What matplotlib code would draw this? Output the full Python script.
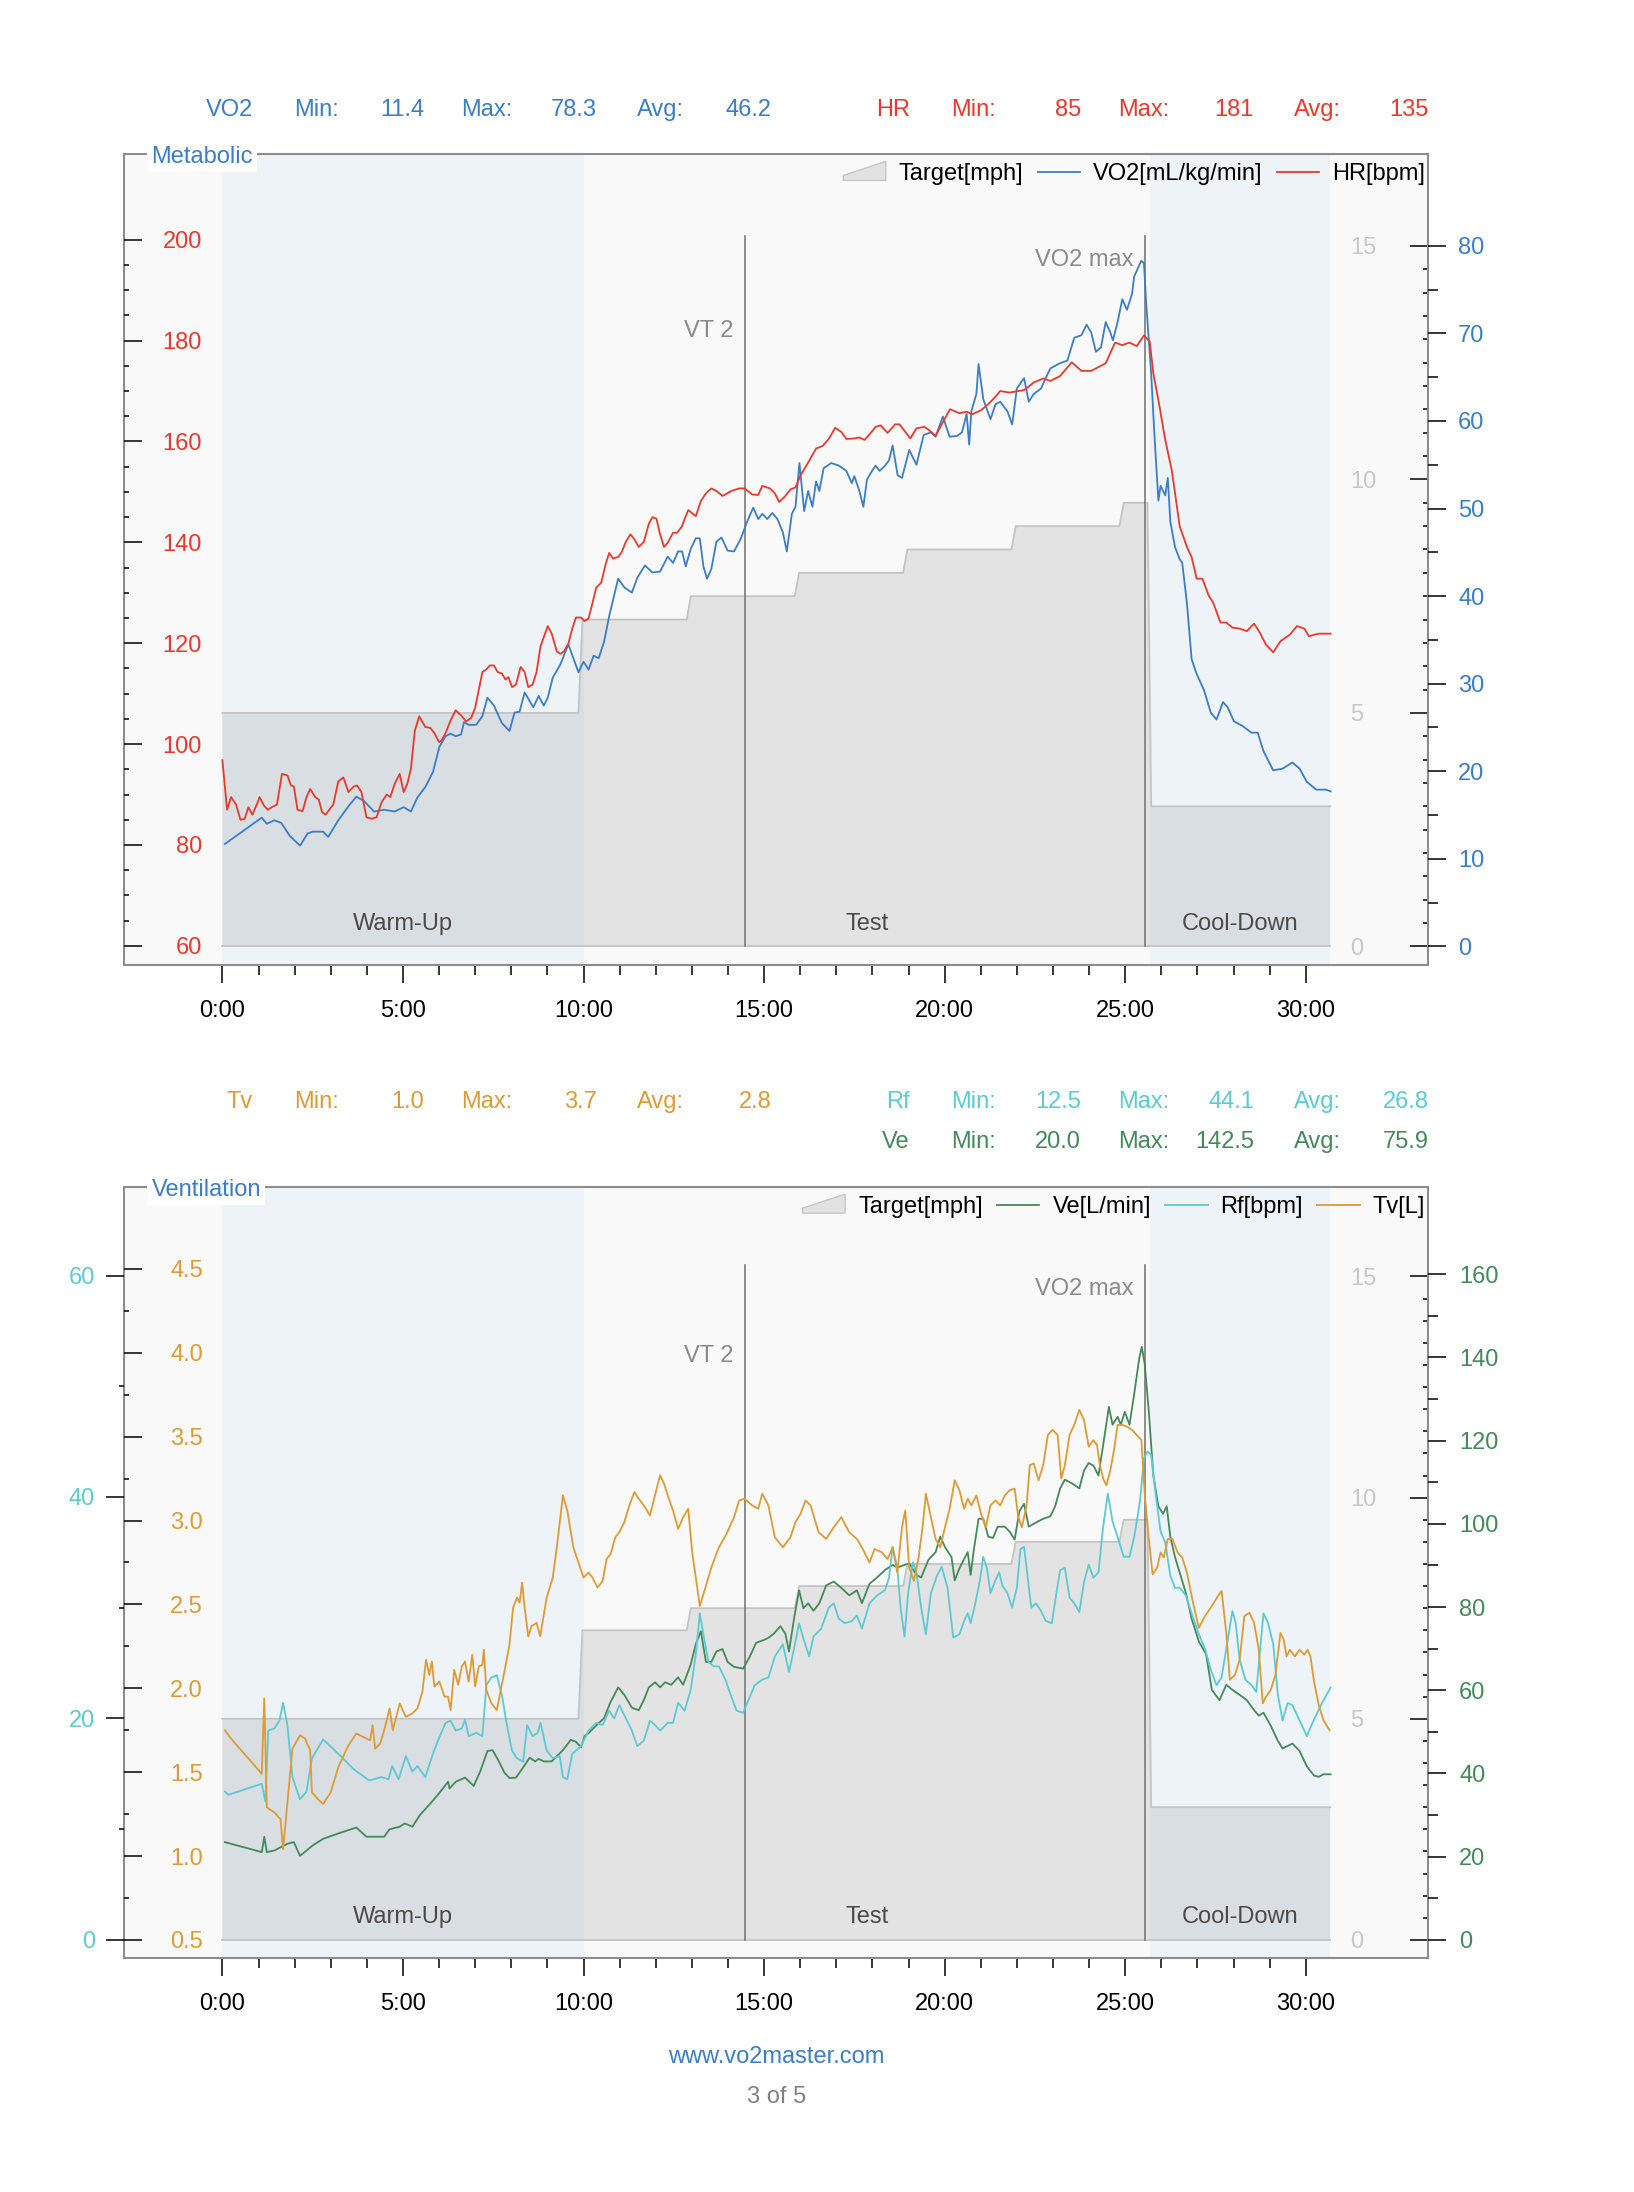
import matplotlib
matplotlib.use("Agg")
import matplotlib.pyplot as plt
from matplotlib.ticker import FixedLocator, FuncFormatter
from matplotlib.patches import Patch, Polygon
from matplotlib.legend_handler import HandlerPatch
from matplotlib.transforms import blended_transform_factory

plt.rcParams['font.family'] = ['Liberation Sans', 'DejaVu Sans']
plt.rcParams['font.size'] = 17

# ---------------- data (time in minutes) ----------------
target_t = [0, 9.86, 9.97, 12.86, 12.97, 15.85, 15.97, 18.85, 18.97, 21.85, 21.97, 24.84, 24.96, 25.62, 25.72, 30.68]
target_v = [5.0, 5.0, 7.0, 7.0, 7.5, 7.5, 8.0, 8.0, 8.5, 8.5, 9.0, 9.0, 9.5, 9.5, 3.0, 3.0]

phases = ['Warm-Up', 'Test', 'Cool-Down']
phase_edges = [0, 10, 25.69, 30.68]
markers = ['VT 2', 'VO2 max']
marker_t = [14.46, 25.55]

hr_t = [0.00, 0.13, 0.24, 0.38, 0.50, 0.62, 0.72, 0.83, 0.98, 1.03,
        1.16, 1.26, 1.37, 1.51, 1.65, 1.80, 1.90, 1.98, 2.08, 2.22,
        2.33, 2.43, 2.57, 2.67, 2.76, 2.86, 2.96, 3.07, 3.21, 3.35,
        3.49, 3.64, 3.73, 3.85, 3.99, 4.13, 4.27, 4.41, 4.55, 4.65,
        4.77, 4.91, 5.02, 5.12, 5.22, 5.33, 5.45, 5.62, 5.76, 5.87,
        6.00, 6.07, 6.18, 6.32, 6.46, 6.61, 6.75, 6.89, 7.00, 7.10,
        7.20, 7.31, 7.41, 7.52, 7.62, 7.74, 7.84, 7.92, 8.02, 8.13,
        8.26, 8.37, 8.47, 8.59, 8.70, 8.81, 9.01, 9.12, 9.26, 9.36,
        9.46, 9.58, 9.69, 9.79, 9.93, 10.03, 10.14, 10.25, 10.35, 10.49,
        10.61, 10.71, 10.82, 10.96, 11.06, 11.17, 11.30, 11.41, 11.53, 11.67,
        11.81, 11.91, 12.02, 12.12, 12.23, 12.33, 12.48, 12.59, 12.72, 12.90,
        13.11, 13.25, 13.39, 13.54, 13.68, 13.85, 14.10, 14.31, 14.46, 14.67,
        14.84, 14.95, 15.16, 15.30, 15.42, 15.59, 15.73, 15.87, 16.01, 16.22,
        16.44, 16.62, 16.79, 16.97, 17.14, 17.28, 17.50, 17.64, 17.78, 17.92,
        18.09, 18.23, 18.42, 18.63, 18.75, 19.05, 19.22, 19.44, 19.58, 19.75,
        19.92, 20.15, 20.41, 20.61, 20.77, 21.01, 21.21, 21.41, 21.54, 21.80,
        22.20, 22.47, 22.73, 22.93, 23.20, 23.52, 23.79, 24.06, 24.46, 24.72,
        24.92, 25.12, 25.32, 25.52, 25.68, 25.78, 25.94, 26.11, 26.29, 26.51,
        26.71, 26.84, 26.98, 27.14, 27.31, 27.44, 27.64, 27.80, 27.97, 28.17,
        28.37, 28.57, 28.73, 28.90, 29.10, 29.30, 29.56, 29.76, 29.96, 30.09,
        30.36, 30.69]
hr_v = [96.8, 87.0, 89.5, 88.0, 85.0, 85.2, 87.5, 86.0, 88.5, 89.5,
        87.7, 87.0, 87.5, 88.0, 94.1, 93.8, 91.8, 91.6, 87.0, 86.7,
        89.5, 91.1, 89.5, 89.0, 86.5, 86.0, 87.0, 88.0, 92.6, 93.4,
        90.5, 91.6, 91.8, 90.5, 85.5, 85.2, 85.5, 88.5, 90.0, 89.5,
        92.1, 94.1, 90.5, 92.1, 95.1, 102.7, 105.5, 103.4, 103.2, 102.2,
        100.4, 100.7, 102.2, 104.7, 106.7, 105.7, 104.5, 105.2, 107.2, 110.8,
        114.3, 114.8, 115.6, 115.6, 114.3, 114.0, 112.8, 113.3, 111.3, 111.8,
        115.3, 114.3, 111.3, 111.8, 114.3, 119.4, 123.4, 121.9, 118.4, 117.9,
        118.4, 119.9, 122.9, 125.1, 125.1, 124.4, 124.9, 128.0, 131.0, 132.0,
        135.6, 137.9, 136.8, 137.1, 138.1, 140.1, 141.6, 140.6, 139.1, 140.1,
        143.7, 145.0, 144.7, 141.6, 139.1, 139.9, 141.9, 141.9, 143.1, 146.4,
        145.2, 148.2, 149.7, 150.7, 150.2, 149.2, 150.2, 150.7, 150.7, 149.5,
        149.4, 151.2, 150.7, 149.7, 148.0, 149.2, 150.5, 150.9, 153.3, 155.8,
        158.6, 159.1, 160.5, 162.7, 161.9, 160.5, 160.6, 160.8, 160.3, 161.4,
        162.9, 163.2, 161.7, 163.4, 163.4, 160.6, 162.6, 162.9, 162.2, 161.1,
        163.4, 166.4, 165.6, 165.9, 165.4, 166.2, 167.4, 168.9, 170.0, 169.7,
        170.2, 171.7, 172.5, 172.0, 173.0, 175.7, 174.0, 174.0, 175.5, 179.6,
        179.1, 179.6, 178.9, 181.0, 179.8, 173.5, 167.4, 160.3, 154.3, 143.2,
        139.1, 137.1, 132.8, 132.8, 129.5, 128.0, 124.1, 124.1, 123.1, 122.9,
        122.4, 123.9, 122.1, 119.7, 118.2, 120.4, 121.7, 123.4, 122.9, 121.4,
        121.9, 121.9]

vo2_t = [0.07, 1.09, 1.23, 1.44, 1.63, 1.87, 2.15, 2.36, 2.50, 2.79,
         2.93, 3.21, 3.49, 3.71, 3.92, 4.20, 4.48, 4.77, 5.02, 5.22,
         5.40, 5.62, 5.83, 6.01, 6.18, 6.32, 6.46, 6.61, 6.69, 6.82,
         7.03, 7.20, 7.34, 7.52, 7.74, 7.95, 8.09, 8.23, 8.37, 8.61,
         8.76, 8.90, 9.01, 9.15, 9.36, 9.58, 9.86, 10.00, 10.14, 10.28,
         10.42, 10.57, 10.71, 10.96, 11.13, 11.34, 11.49, 11.70, 11.91, 12.12,
         12.33, 12.48, 12.62, 12.73, 12.83, 12.97, 13.11, 13.22, 13.32, 13.42,
         13.54, 13.68, 13.82, 13.99, 14.17, 14.36, 14.53, 14.70, 14.84, 14.95,
         15.09, 15.23, 15.37, 15.52, 15.63, 15.77, 15.87, 15.98, 16.11, 16.22,
         16.34, 16.44, 16.53, 16.65, 16.86, 17.07, 17.28, 17.43, 17.50, 17.64,
         17.75, 17.85, 17.99, 18.09, 18.20, 18.35, 18.46, 18.56, 18.70, 18.82,
         19.02, 19.22, 19.42, 19.62, 19.75, 19.95, 20.14, 20.35, 20.48, 20.61,
         20.68, 20.74, 20.88, 20.94, 21.07, 21.27, 21.41, 21.54, 21.74, 21.87,
         22.00, 22.20, 22.33, 22.47, 22.67, 22.80, 22.93, 23.06, 23.20, 23.40,
         23.59, 23.79, 23.93, 24.06, 24.19, 24.33, 24.46, 24.59, 24.66, 24.79,
         24.92, 25.05, 25.19, 25.25, 25.39, 25.45, 25.52, 25.58, 25.72, 25.81,
         25.92, 25.98, 26.11, 26.18, 26.25, 26.38, 26.51, 26.58, 26.71, 26.84,
         26.98, 27.18, 27.37, 27.53, 27.71, 27.84, 28.01, 28.24, 28.50, 28.67,
         28.83, 29.10, 29.36, 29.63, 29.83, 30.03, 30.29, 30.56, 30.69]
vo2_v = [11.7, 14.7, 14.0, 14.4, 14.1, 12.6, 11.5, 12.9, 13.1, 13.1,
         12.5, 14.4, 16.0, 17.1, 16.6, 15.4, 15.6, 15.4, 15.9, 15.4,
         17.0, 18.2, 19.9, 22.8, 24.0, 24.3, 24.0, 24.2, 25.6, 25.3,
         25.3, 26.3, 28.4, 27.5, 25.5, 24.6, 26.7, 26.8, 29.0, 27.3,
         28.6, 27.5, 28.4, 30.7, 32.2, 34.5, 31.3, 32.5, 31.6, 33.2,
         32.9, 34.8, 37.7, 42.0, 41.0, 40.4, 42.1, 43.5, 42.7, 42.8,
         44.5, 43.8, 45.1, 45.1, 43.4, 45.4, 46.6, 46.6, 43.4, 42.0,
         43.1, 46.2, 46.7, 45.2, 45.1, 46.6, 48.5, 50.1, 48.8, 49.4,
         48.8, 49.5, 48.8, 47.3, 45.1, 49.4, 50.2, 55.2, 49.7, 52.0,
         50.2, 53.1, 52.0, 54.6, 55.2, 54.9, 54.3, 52.9, 53.7, 52.0,
         50.2, 53.3, 54.3, 54.9, 54.3, 54.9, 55.5, 57.2, 53.8, 53.5,
         56.7, 55.0, 58.4, 58.7, 58.2, 60.5, 58.2, 58.3, 58.7, 60.8,
         57.3, 61.1, 63.1, 66.5, 62.5, 60.2, 61.9, 62.2, 61.1, 59.6,
         63.7, 64.9, 62.2, 63.1, 63.7, 64.9, 66.0, 66.3, 66.6, 66.9,
         69.5, 69.8, 71.0, 70.1, 67.9, 68.4, 71.3, 70.1, 69.2, 71.3,
         73.9, 72.7, 74.5, 76.5, 77.8, 78.3, 78.0, 73.6, 65.4, 58.4,
         50.9, 52.6, 51.5, 53.5, 48.5, 45.6, 44.2, 43.8, 39.2, 32.8,
         31.1, 29.3, 26.7, 25.9, 27.9, 27.3, 25.7, 25.2, 24.4, 24.4,
         22.3, 20.1, 20.3, 21.0, 20.3, 18.8, 17.9, 17.9, 17.7]

ve_t = [0.07, 1.09, 1.16, 1.23, 1.44, 1.80, 1.98, 2.15, 2.50, 2.79,
        3.35, 3.71, 3.99, 4.48, 4.63, 4.91, 5.05, 5.26, 5.47, 5.73,
        5.97, 6.25, 6.29, 6.46, 6.72, 6.96, 7.14, 7.34, 7.48, 7.62,
        7.81, 7.95, 8.13, 8.30, 8.51, 8.66, 8.76, 8.90, 9.12, 9.29,
        9.43, 9.65, 9.79, 9.93, 10.03, 10.14, 10.35, 10.57, 10.74, 10.96,
        11.13, 11.34, 11.53, 11.67, 11.81, 11.98, 12.12, 12.26, 12.43, 12.62,
        12.76, 12.97, 13.11, 13.25, 13.39, 13.54, 13.68, 13.85, 13.99, 14.17,
        14.42, 14.60, 14.78, 15.00, 15.12, 15.27, 15.45, 15.59, 15.69, 15.83,
        15.97, 16.09, 16.22, 16.37, 16.53, 16.72, 16.93, 17.14, 17.36, 17.57,
        17.71, 17.92, 18.13, 18.35, 18.56, 18.69, 19.02, 19.22, 19.35, 19.55,
        19.75, 19.88, 20.01, 20.19, 20.28, 20.42, 20.64, 20.72, 20.81, 20.94,
        21.07, 21.21, 21.34, 21.47, 21.67, 21.80, 21.94, 22.07, 22.20, 22.33,
        22.53, 22.73, 22.93, 23.06, 23.20, 23.33, 23.53, 23.73, 23.86, 23.99,
        24.12, 24.26, 24.39, 24.55, 24.65, 24.79, 24.88, 24.99, 25.12, 25.25,
        25.39, 25.46, 25.54, 25.65, 25.78, 25.92, 26.05, 26.15, 26.25, 26.38,
        26.51, 26.68, 26.84, 27.04, 27.24, 27.40, 27.61, 27.80, 27.97, 28.17,
        28.37, 28.57, 28.70, 28.83, 29.03, 29.23, 29.36, 29.50, 29.63, 29.83,
        30.03, 30.23, 30.36, 30.49, 30.69]
ve_v = [23.5, 21.1, 24.8, 21.1, 21.5, 23.1, 23.5, 20.2, 22.7, 24.3,
        26.0, 27.0, 24.8, 24.8, 26.6, 27.2, 28.0, 27.2, 30.0, 32.5,
        34.9, 38.0, 36.4, 38.0, 39.0, 37.0, 40.5, 45.4, 45.6, 43.5,
        40.2, 38.9, 39.0, 41.1, 43.8, 42.9, 43.5, 42.9, 42.9, 44.4,
        45.6, 48.1, 47.6, 46.3, 49.0, 49.7, 51.5, 53.3, 57.0, 60.7,
        58.9, 55.8, 55.2, 57.6, 60.7, 61.9, 60.7, 61.9, 61.3, 63.1,
        61.3, 66.2, 71.1, 74.2, 66.8, 66.8, 69.3, 69.9, 66.8, 65.6,
        65.2, 68.0, 71.4, 72.1, 72.6, 73.6, 75.4, 73.6, 69.3, 77.2,
        84.0, 79.7, 80.9, 79.1, 80.9, 85.2, 86.1, 84.6, 82.8, 84.0,
        80.9, 85.6, 87.1, 88.9, 90.1, 89.5, 90.5, 87.7, 87.1, 91.3,
        93.2, 96.9, 94.4, 92.0, 86.4, 89.5, 93.2, 87.7, 93.8, 101.2,
        101.2, 96.9, 96.6, 99.3, 99.3, 98.1, 96.2, 103.0, 104.8, 99.3,
        100.3, 101.2, 101.8, 104.2, 108.5, 110.6, 109.7, 108.5, 112.8, 114.6,
        114.0, 111.6, 118.9, 128.1, 123.8, 125.7, 123.8, 126.9, 123.8, 131.2,
        139.8, 142.5, 138.5, 127.5, 111.6, 104.2, 102.4, 104.2, 96.9, 92.0,
        88.3, 83.4, 77.2, 71.7, 68.7, 60.1, 57.6, 61.3, 60.1, 58.9,
        57.6, 55.2, 53.9, 54.6, 51.5, 47.8, 46.0, 46.6, 47.2, 45.4,
        41.7, 39.5, 39.2, 39.8, 39.8]

rf_t = [0.07, 0.17, 1.09, 1.19, 1.27, 1.44, 1.58, 1.68, 1.80, 1.94,
        2.15, 2.33, 2.48, 2.79, 3.21, 3.64, 4.06, 4.41, 4.60, 4.70,
        4.88, 5.08, 5.26, 5.40, 5.62, 5.83, 5.97, 6.18, 6.32, 6.46,
        6.63, 6.72, 6.82, 7.03, 7.20, 7.31, 7.45, 7.60, 7.74, 7.88,
        8.02, 8.16, 8.33, 8.44, 8.59, 8.73, 8.81, 8.98, 9.15, 9.34,
        9.43, 9.55, 9.69, 9.93, 10.14, 10.35, 10.53, 10.71, 10.85, 10.99,
        11.13, 11.34, 11.49, 11.67, 11.84, 11.98, 12.12, 12.33, 12.48, 12.62,
        12.80, 12.97, 13.11, 13.22, 13.32, 13.46, 13.61, 13.75, 13.93, 14.10,
        14.24, 14.42, 14.60, 14.74, 14.95, 15.12, 15.30, 15.52, 15.69, 15.83,
        15.97, 16.09, 16.25, 16.37, 16.58, 16.79, 16.93, 17.07, 17.24, 17.43,
        17.57, 17.71, 17.92, 18.13, 18.35, 18.46, 18.56, 18.69, 18.78, 18.89,
        18.99, 19.12, 19.22, 19.35, 19.48, 19.62, 19.79, 19.92, 20.08, 20.24,
        20.41, 20.54, 20.64, 20.72, 20.85, 20.98, 21.07, 21.17, 21.27, 21.41,
        21.51, 21.60, 21.74, 21.87, 22.00, 22.10, 22.20, 22.31, 22.40, 22.53,
        22.67, 22.80, 22.97, 23.06, 23.20, 23.33, 23.46, 23.59, 23.73, 23.86,
        23.99, 24.12, 24.26, 24.39, 24.52, 24.65, 24.79, 24.96, 25.12, 25.25,
        25.41, 25.52, 25.62, 25.72, 25.85, 25.98, 26.11, 26.25, 26.38, 26.51,
        26.68, 26.84, 27.04, 27.21, 27.37, 27.53, 27.67, 27.80, 27.97, 28.06,
        28.17, 28.33, 28.50, 28.63, 28.72, 28.83, 28.96, 29.10, 29.23, 29.36,
        29.50, 29.63, 29.76, 29.89, 30.03, 30.16, 30.29, 30.42, 30.69]
rf_v = [13.4, 13.1, 14.1, 12.5, 18.9, 19.1, 19.8, 21.4, 19.4, 14.7,
        12.7, 13.4, 16.4, 18.1, 16.8, 15.4, 14.4, 14.7, 14.5, 15.7,
        14.5, 16.6, 15.2, 15.7, 14.7, 16.8, 18.0, 19.6, 19.8, 18.9,
        19.1, 19.9, 18.4, 18.7, 18.4, 23.0, 23.7, 23.9, 22.1, 19.4,
        17.1, 16.4, 16.1, 19.4, 18.4, 18.7, 19.6, 17.1, 16.4, 16.6,
        14.7, 14.5, 16.8, 17.5, 18.9, 19.6, 19.4, 20.7, 20.0, 21.2,
        20.3, 18.9, 17.5, 18.0, 19.8, 19.4, 18.9, 19.6, 19.6, 21.4,
        20.7, 22.6, 25.8, 29.5, 27.6, 25.1, 24.7, 24.7, 23.5, 21.9,
        20.7, 20.5, 21.9, 23.0, 23.5, 23.7, 25.6, 26.7, 24.2, 26.3,
        28.6, 27.2, 25.6, 27.4, 28.1, 30.0, 30.4, 29.0, 28.6, 28.8,
        29.3, 28.1, 30.4, 31.1, 31.6, 32.7, 35.5, 33.6, 30.0, 27.4,
        31.3, 34.1, 33.2, 30.0, 27.6, 31.3, 32.9, 33.7, 31.8, 27.3,
        27.6, 28.8, 29.5, 28.6, 30.4, 32.5, 34.6, 33.6, 31.3, 32.5,
        33.2, 32.0, 31.3, 30.0, 31.8, 35.3, 35.5, 32.5, 30.0, 30.4,
        29.7, 28.8, 28.6, 30.6, 33.4, 33.6, 30.9, 30.4, 29.6, 32.3,
        33.9, 32.7, 33.2, 37.3, 40.3, 37.8, 36.4, 34.6, 34.6, 36.4,
        39.6, 43.5, 44.1, 43.8, 40.1, 36.9, 35.9, 32.9, 31.8, 31.8,
        31.1, 29.5, 27.6, 26.3, 24.4, 23.0, 23.7, 26.3, 29.7, 28.6,
        25.3, 23.5, 23.0, 22.4, 25.6, 29.5, 28.6, 26.7, 22.1, 19.8,
        21.4, 21.2, 20.3, 19.4, 18.4, 19.4, 20.3, 21.2, 22.8]

tv_t = [0.07, 0.24, 0.52, 0.81, 1.09, 1.16, 1.23, 1.44, 1.61, 1.68,
        1.80, 1.94, 2.15, 2.29, 2.43, 2.48, 2.64, 2.79, 3.00, 3.21,
        3.49, 3.71, 3.99, 4.09, 4.16, 4.23, 4.37, 4.48, 4.63, 4.72,
        4.91, 5.08, 5.26, 5.40, 5.54, 5.64, 5.73, 5.80, 5.87, 6.01,
        6.15, 6.25, 6.32, 6.42, 6.53, 6.63, 6.72, 6.82, 6.92, 7.00,
        7.10, 7.20, 7.24, 7.31, 7.45, 7.60, 7.81, 7.95, 8.05, 8.16,
        8.23, 8.30, 8.37, 8.47, 8.56, 8.70, 8.80, 8.87, 8.98, 9.15,
        9.26, 9.36, 9.43, 9.55, 9.72, 9.86, 10.00, 10.14, 10.25, 10.39,
        10.53, 10.64, 10.75, 10.88, 10.99, 11.13, 11.27, 11.41, 11.53, 11.67,
        11.84, 11.98, 12.12, 12.23, 12.33, 12.48, 12.62, 12.76, 12.90, 13.01,
        13.11, 13.22, 13.39, 13.54, 13.75, 13.96, 14.17, 14.31, 14.46, 14.67,
        14.84, 14.95, 15.12, 15.30, 15.52, 15.73, 15.87, 16.01, 16.15, 16.29,
        16.51, 16.72, 16.93, 17.14, 17.36, 17.57, 17.71, 17.92, 18.06, 18.27,
        18.42, 18.56, 18.69, 18.82, 18.91, 19.02, 19.15, 19.28, 19.39, 19.48,
        19.62, 19.75, 19.88, 20.01, 20.14, 20.28, 20.41, 20.54, 20.64, 20.74,
        20.88, 21.01, 21.14, 21.27, 21.41, 21.54, 21.67, 21.80, 21.94, 22.04,
        22.14, 22.27, 22.36, 22.47, 22.60, 22.73, 22.86, 22.99, 23.13, 23.23,
        23.33, 23.46, 23.59, 23.73, 23.86, 23.99, 24.12, 24.22, 24.30, 24.39,
        24.48, 24.59, 24.69, 24.79, 24.92, 25.05, 25.19, 25.32, 25.45, 25.54,
        25.65, 25.76, 25.89, 25.98, 26.07, 26.18, 26.31, 26.45, 26.58, 26.71,
        26.87, 27.04, 27.21, 27.37, 27.57, 27.67, 27.80, 27.90, 28.04, 28.17,
        28.30, 28.44, 28.57, 28.70, 28.81, 28.90, 29.03, 29.16, 29.30, 29.39,
        29.47, 29.56, 29.70, 29.83, 29.96, 30.05, 30.13, 30.23, 30.36, 30.49,
        30.66]
tv_v = [1.75, 1.70, 1.63, 1.56, 1.49, 1.94, 1.29, 1.26, 1.22, 1.04,
        1.32, 1.64, 1.72, 1.70, 1.63, 1.38, 1.34, 1.31, 1.38, 1.53,
        1.66, 1.73, 1.70, 1.69, 1.78, 1.64, 1.67, 1.75, 1.88, 1.75,
        1.91, 1.83, 1.85, 1.88, 1.98, 2.17, 2.08, 2.16, 2.01, 2.04,
        1.95, 1.95, 1.87, 2.11, 2.02, 2.13, 2.16, 2.04, 2.20, 2.01,
        2.13, 2.14, 2.23, 1.99, 1.91, 1.87, 2.10, 2.26, 2.48, 2.54,
        2.51, 2.63, 2.48, 2.31, 2.37, 2.39, 2.31, 2.40, 2.54, 2.66,
        2.84, 3.02, 3.15, 3.06, 2.84, 2.75, 2.66, 2.69, 2.66, 2.60,
        2.64, 2.77, 2.80, 2.90, 2.93, 2.99, 3.09, 3.17, 3.13, 3.09,
        3.03, 3.15, 3.27, 3.22, 3.15, 3.06, 2.95, 3.02, 3.07, 2.81,
        2.66, 2.49, 2.61, 2.72, 2.84, 2.92, 3.02, 3.12, 3.13, 3.09,
        3.07, 3.16, 3.09, 2.90, 2.84, 2.90, 2.99, 3.04, 3.12, 3.09,
        2.93, 2.89, 2.96, 3.02, 2.93, 2.89, 2.84, 2.75, 2.83, 2.81,
        2.77, 2.84, 2.69, 2.96, 3.06, 2.72, 2.64, 2.78, 2.96, 3.16,
        3.02, 2.89, 2.84, 2.96, 3.07, 3.24, 3.18, 3.07, 3.13, 3.09,
        3.15, 3.04, 2.96, 3.09, 3.12, 3.09, 3.15, 3.18, 3.19, 3.02,
        2.96, 3.09, 3.33, 3.34, 3.24, 3.33, 3.51, 3.54, 3.51, 3.25,
        3.33, 3.51, 3.57, 3.66, 3.60, 3.44, 3.48, 3.45, 3.33, 3.25,
        3.21, 3.30, 3.42, 3.57, 3.57, 3.56, 3.54, 3.51, 3.48, 3.16,
        2.90, 2.68, 2.72, 2.81, 2.78, 2.89, 2.89, 2.81, 2.78, 2.69,
        2.52, 2.36, 2.43, 2.48, 2.55, 2.58, 2.33, 2.05, 2.08, 2.17,
        2.43, 2.45, 2.39, 2.23, 1.91, 1.95, 1.99, 2.08, 2.33, 2.29,
        2.19, 2.23, 2.19, 2.23, 2.20, 2.23, 2.19, 2.04, 1.90, 1.81,
        1.75]

# summary numbers shown above each panel: min, max, avg
vo2_stats = ['11.4', '78.3', '46.2']
hr_stats = ['85', '181', '135']
tv_stats = ['1.0', '3.7', '2.8']
rf_stats = ['12.5', '44.1', '26.8']
ve_stats = ['20.0', '142.5', '75.9']

# ---------------- style ----------------
BLUE = '#3b7dc8'
RED = '#e8392c'
ORANGE = '#de9b33'
CYAN = '#5ccad1'
GREEN = '#44895a'
TGT_LABEL = '#c8c8c8'
FRAME = '#8c8c8c'
SHADE = '#eef3f8'
LW = 1.3

W, H = 1634, 2192
fig = plt.figure(figsize=(W / 100, H / 100), dpi=100)

X_LIM = (-2.711, 33.386)
MAJ, MINL_IN, MINL_OUT = 13, 3.6, 7.2


def ramp(legend, orig_handle, xdescent, ydescent, width, height, fontsize):
    x0, y0 = -xdescent, -ydescent
    return Polygon([(x0, y0), (x0 + width, y0), (x0 + width, y0 + height * 1.15),
                    (x0, y0 + height * 0.3)], closed=True)


def base_panel(rect, tgt_lim, title, title_y):
    ax = fig.add_axes(rect)
    ax.set_facecolor('#f9f9f9')
    ax.set_xlim(X_LIM)
    ax.set_ylim(tgt_lim)
    for s in ax.spines.values():
        s.set_color(FRAME)
        s.set_linewidth(1.5)
    # warm-up and cool-down shading
    ax.axvspan(phase_edges[0], phase_edges[1], color=SHADE, lw=0, zorder=0)
    ax.axvspan(phase_edges[2], phase_edges[3], color=SHADE, lw=0, zorder=0)
    # target speed area
    ax.fill_between(target_t, 0, target_v, facecolor=(0, 0, 0, 0.088), lw=0, zorder=1)
    ax.plot(target_t, target_v, color='#c4c4c4', lw=1.3, zorder=1)
    ax.plot([target_t[0], target_t[-1]], [0, 0], color='#c4c4c4', lw=1.3, zorder=1)
    ax.text(0.0207, title_y, title, transform=ax.transAxes, ha='left', va='center', color=BLUE,
            bbox=dict(facecolor='white', edgecolor='none', pad=3), zorder=5)
    return ax


def finish_panel(ax, ymin_f, ymax_f, lab_f):
    blend = blended_transform_factory(ax.transData, ax.transAxes)
    for name, t, yf in zip(markers, marker_t, lab_f[:2]):
        ax.axvline(t, ymin=ymin_f, ymax=ymax_f, color='#7a7a7a', lw=1.2, zorder=2)
        ax.annotate(name, xy=(t, yf), xycoords=blend, xytext=(-8.3, 0), textcoords='offset points',
                    ha='right', va='center', color='#8a8a8a')
    for i, name in enumerate(phases):
        mid = (phase_edges[i] + phase_edges[i + 1]) / 2
        ax.text(mid, lab_f[2], name, transform=blend, ha='center', va='center', color='#4a4a4a')
    # time axis
    ax.xaxis.set_major_locator(FixedLocator(list(range(0, 31, 5))))
    ax.xaxis.set_minor_locator(FixedLocator([m for m in range(31) if m % 5]))
    ax.xaxis.set_major_formatter(FuncFormatter(lambda v, p: '%d:00' % int(round(v))))
    ax.tick_params(axis='x', which='major', direction='out', length=MAJ, width=1.1, pad=12.3,
                   color='black', labelcolor='black', top=False)
    ax.tick_params(axis='x', which='minor', direction='out', length=MINL_OUT, width=1.1, top=False)
    # target speed axis (inside, right)
    ax.yaxis.tick_right()
    ax.yaxis.set_major_locator(FixedLocator([0, 5, 10, 15]))
    ax.yaxis.set_minor_locator(FixedLocator([i * 0.5 for i in range(1, 30) if i % 10]))
    ax.tick_params(axis='y', which='major', direction='in', length=MAJ, width=1.1, color='black',
                   labelcolor=TGT_LABEL, pad=-56, left=False, labelleft=False)
    ax.tick_params(axis='y', which='minor', direction='in', length=MINL_IN, width=1.1, left=False)


def style_twin(tw, side, direction, lim, majors, minors, color, pad, minlen):
    tw.set_ylim(lim)
    for s in tw.spines.values():
        s.set_visible(False)
    if side == 'left':
        tw.yaxis.tick_left()
    else:
        tw.yaxis.tick_right()
    tw.yaxis.set_major_locator(FixedLocator(majors))
    tw.yaxis.set_minor_locator(FixedLocator(minors))
    tw.tick_params(axis='y', which='major', direction=direction, length=MAJ, width=1.1,
                   color='black', labelcolor=color, pad=pad)
    tw.tick_params(axis='y', which='minor', direction=direction, length=minlen, width=1.1)


def stat_row(y_px, x_min, name, vals, color):
    y = 1 - y_px / H
    fig.text((x_min - 41) / W, y, name, ha='right', va='center', color=color)
    for dl, dv, lab, val in zip((0, 167, 343), (130, 303, 478), ('Min:', 'Max:', 'Avg:'), vals):
        fig.text((x_min + dl) / W, y, lab, ha='left', va='center', color=color)
        fig.text((x_min + dv) / W, y, val, ha='right', va='center', color=color)


tgt_proxy = Patch(facecolor='#e2e2e2', edgecolor='#c6c6c6', lw=1.0)
leg_kw = dict(loc='upper right', bbox_to_anchor=(1.005, 1.0), frameon=False, handlelength=1.8,
              handletextpad=0.55, columnspacing=0.6, borderaxespad=0, borderpad=0.4,
              handler_map={tgt_proxy: HandlerPatch(patch_func=ramp)})

# ---------------- Metabolic panel ----------------
ax1 = base_panel([0.07619, 0.55963, 0.79774, 0.37012], (-0.405, 16.97), 'Metabolic', 0.9965)
ax_vo2 = ax1.twinx()
ax_hr = ax1.twinx()
finish_panel(ax1, 0.0238, 0.899, (0.782, 0.869, 0.0515))

style_twin(ax_vo2, 'right', 'out', (-2.16, 90.49), list(range(0, 81, 10)), list(range(5, 80, 10)),
           BLUE, 8.6, MINL_OUT)
style_twin(ax_hr, 'left', 'in', (56.15, 217.0), list(range(60, 201, 20)),
           [v for v in range(60, 201, 5) if v % 20], RED, -55.8, MINL_IN)

l_vo2, = ax_vo2.plot(vo2_t, vo2_v, color=BLUE, lw=LW)
l_hr, = ax_hr.plot(hr_t, hr_v, color=RED, lw=LW)
ax_hr.legend([tgt_proxy, l_vo2, l_hr], ['Target[mph]', 'VO2[mL/kg/min]', 'HR[bpm]'], ncol=3, **leg_kw)

# ---------------- Ventilation panel ----------------
ax2 = base_panel([0.07619, 0.10693, 0.79774, 0.35169], (-0.40, 17.03), 'Ventilation', 0.9962)
ax_ve = ax2.twinx()
ax_rf = ax2.twinx()
ax_tv = ax2.twinx()
finish_panel(ax2, 0.0228, 0.898, (0.781, 0.867, 0.0529))

style_twin(ax_ve, 'right', 'out', (-4.25, 181.0), list(range(0, 161, 20)), list(range(10, 160, 20)),
           GREEN, 9.4, MINL_OUT)
style_twin(ax_rf, 'left', 'out', (-1.60, 68.02), [0, 20, 40, 60], [10, 30, 50], CYAN, 8.3, MINL_IN)
style_twin(ax_tv, 'left', 'in', (0.3945, 4.990), [0.5 + 0.5 * i for i in range(9)],
           [0.75 + 0.5 * i for i in range(8)], ORANGE, -56.5, MINL_IN)

l_ve, = ax_ve.plot(ve_t, ve_v, color=GREEN, lw=LW)
l_rf, = ax_rf.plot(rf_t, rf_v, color=CYAN, lw=LW)
l_tv, = ax_tv.plot(tv_t, tv_v, color=ORANGE, lw=LW)
ax_tv.legend([tgt_proxy, l_ve, l_rf, l_tv], ['Target[mph]', 'Ve[L/min]', 'Rf[bpm]', 'Tv[L]'],
             ncol=4, **leg_kw)

# ---------------- summary rows and footer ----------------
stat_row(110, 294, 'VO2', vo2_stats, BLUE)
stat_row(110, 951, 'HR', hr_stats, RED)
stat_row(1102, 294, 'Tv', tv_stats, ORANGE)
stat_row(1102, 951, 'Rf', rf_stats, CYAN)
stat_row(1142, 951, 'Ve', ve_stats, GREEN)

fig.text(776.5 / W, 1 - 2056.7 / H, 'www.vo2master.com', ha='center', va='center', color=BLUE)
fig.text(776.5 / W, 1 - 2096.7 / H, '3 of 5', ha='center', va='center', color='#808080')

fig.savefig('out.png', dpi=100, facecolor='white')
